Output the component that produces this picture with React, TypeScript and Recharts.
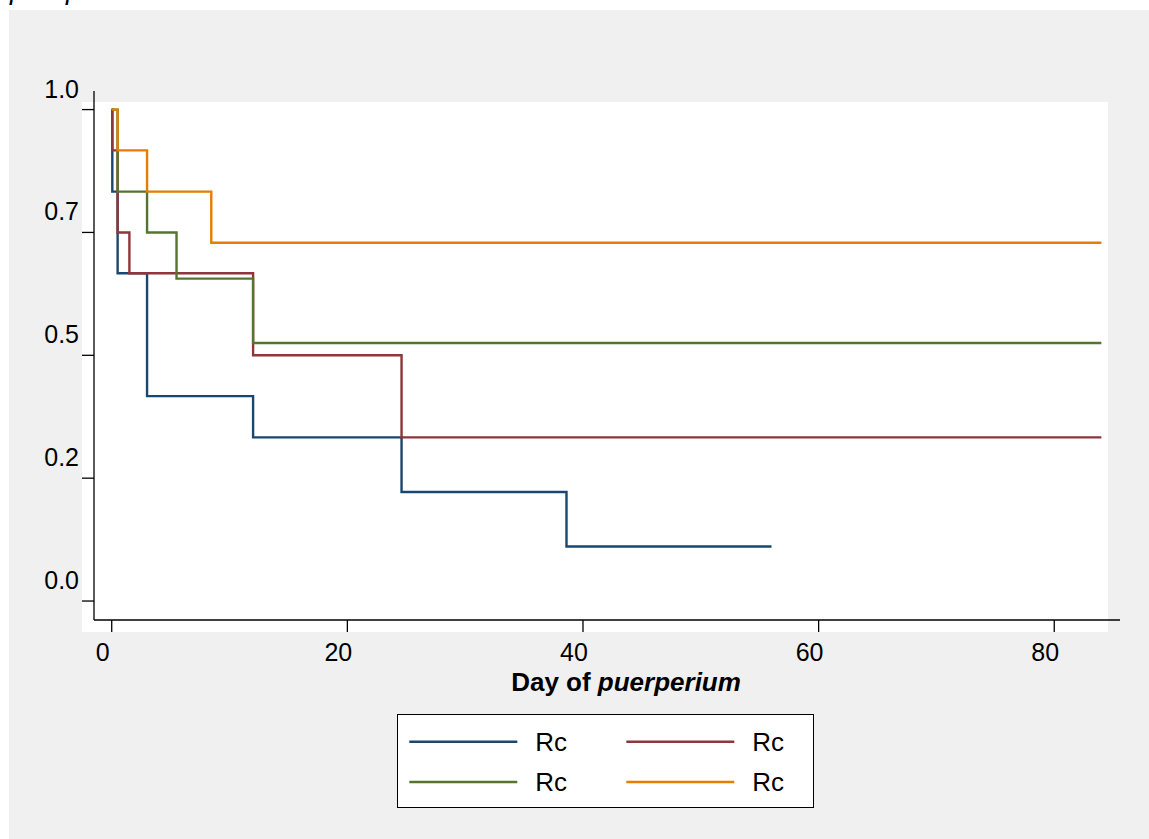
import React from 'react';
import { LineChart, Line, XAxis, YAxis, Legend } from 'recharts';

const FONT = '"Liberation Sans", Arial, Helvetica, sans-serif';

// Series (Kaplan-Meier style step curves), time in days, survival proportion
const navyTime = [0, 0.05, 0.5, 3, 12, 24.6, 38.6, 56];
const navySurv = [1, 0.833, 0.667, 0.417, 0.333, 0.222, 0.111, 0.111];

const maroonTime = [0, 0.05, 0.5, 1.5, 12, 24.6, 84];
const maroonSurv = [1, 0.917, 0.75, 0.667, 0.5, 0.333, 0.333];

const greenTime = [0, 0.5, 3, 5.5, 12, 84];
const greenSurv = [1, 0.833, 0.75, 0.656, 0.525, 0.525];

const orangeTime = [0, 0.5, 3, 8.45, 84];
const orangeSurv = [1, 0.917, 0.833, 0.729, 0.729];

const seriesNames = ['Rc', 'Rc', 'Rc', 'Rc'];
const seriesColors = ['#1a476f', '#90353b', '#55752f', '#e37e00'];

const xTicks = [0, 20, 40, 60, 80];
const xTickLabels = ['0', '20', '40', '60', '80'];
const yTicks = [0, 0.25, 0.5, 0.75, 1];
const yTickLabels = ['0.0', '0.2', '0.5', '0.7', '1.0'];

const xTitlePlain = 'Day of ';
const xTitleItalic = 'puerperium';
const topCutText = 'puerperium';

const toPoints = (t: number[], s: number[]) => t.map((tv, i) => ({ t: tv, s: s[i] }));

const series = [
  toPoints(navyTime, navySurv),
  toPoints(maroonTime, maroonSurv),
  toPoints(greenTime, greenSurv),
  toPoints(orangeTime, orangeSurv),
];

const YTick = (props: any) => {
  const { x, y, payload } = props;
  const idx = yTicks.indexOf(payload.value);
  return (
    <text x={x} y={y - 12} textAnchor="end" fontSize={25} fill="#000" fontFamily={FONT}>
      {idx >= 0 ? yTickLabels[idx] : String(payload.value)}
    </text>
  );
};

const XTick = (props: any) => {
  const { x, y, payload } = props;
  const idx = xTicks.indexOf(payload.value);
  return (
    <text x={x - 9} y={y + 26.5} textAnchor="middle" fontSize={25} fill="#000" fontFamily={FONT}>
      {idx >= 0 ? xTickLabels[idx] : String(payload.value)}
    </text>
  );
};

const XTitle = (props: any) => {
  const vb = props.viewBox || { x: 0, y: 0, width: 0, height: 0 };
  const cx = vb.x + vb.width / 2 + 19;
  return (
    <text x={cx} y={691} textAnchor="middle" fontSize={26} fontWeight="bold" fill="#000" fontFamily={FONT}>
      {xTitlePlain}
      <tspan fontStyle="italic">{xTitleItalic}</tspan>
    </text>
  );
};

const renderLegend = (props: any) => {
  const payload: any[] = props.payload || [];
  return (
    <div
      style={{
        width: 417,
        height: 94,
        boxSizing: 'border-box',
        border: '1.3px solid #000',
        background: '#ffffff',
      }}
    >
      <svg width={415} height={92} style={{ display: 'block' }}>
        {payload.map((entry: any, i: number) => {
          const col = i % 2;
          const row = Math.floor(i / 2);
          const lx = 11.3 + col * 217;
          const ly = 26.7 + row * 40.3;
          return (
            <g key={i}>
              <line x1={lx} x2={lx + 108} y1={ly} y2={ly} stroke={entry.color} strokeWidth={2.4} />
              <text x={lx + 126} y={ly + 9} fontSize={26} fill="#000" fontFamily={FONT}>
                {entry.value}
              </text>
            </g>
          );
        })}
      </svg>
    </div>
  );
};

export default function App() {
  return (
    <div style={{ position: 'absolute', left: 0, top: 0, width: 1149, height: 839, background: '#ffffff', overflow: 'hidden' }}>
      <svg
        width={400}
        height={10}
        style={{ position: 'absolute', left: 0, top: 0, overflow: 'hidden' }}
      >
        <text x={10} y={-1.5} fontSize={28} fontStyle="italic" fill="#000" fontFamily={FONT}>
          {topCutText}
        </text>
      </svg>
      <div style={{ position: 'absolute', left: 9, top: 10, width: 1140, height: 829, background: '#f0f0f0' }} />
      <div style={{ position: 'absolute', left: 82, top: 102, width: 1026, height: 530, background: '#ffffff' }} />
      <div style={{ position: 'absolute', left: 0, top: 0 }}>
        <LineChart width={1149} height={839} margin={{ top: 91, right: 29, bottom: 159, left: 34 }}>
          <XAxis
            type="number"
            dataKey="t"
            domain={[-1.504, 85.58]}
            allowDataOverflow
            ticks={xTicks}
            interval={0}
            tickSize={12}
            tickMargin={2}
            height={60}
            axisLine={{ stroke: '#000', strokeWidth: 1.3 }}
            tickLine={{ stroke: '#000', strokeWidth: 1.3 }}
            tick={<XTick />}
            label={<XTitle />}
          />
          <YAxis
            yAxisId="left"
            type="number"
            domain={[-0.0386, 1.0378]}
            allowDataOverflow
            ticks={yTicks}
            interval={0}
            width={60}
            tickSize={12}
            tickMargin={3}
            axisLine={{ stroke: '#000', strokeWidth: 1.3 }}
            tickLine={{ stroke: '#000', strokeWidth: 1.3 }}
            tick={<YTick />}
          />
          <YAxis
            yAxisId="right"
            orientation="right"
            mirror
            type="number"
            domain={[-0.0386, 1.0378]}
            allowDataOverflow
            ticks={yTicks}
            interval={0}
            width={1}
            tickSize={11}
            axisLine={false}
            tickLine={{ stroke: '#ffffff', strokeWidth: 2 }}
            tick={false}
          />
          {series.map((pts, i) => (
            <Line
              key={i}
              yAxisId="left"
              data={pts}
              dataKey="s"
              name={seriesNames[i]}
              type="stepAfter"
              stroke={seriesColors[i]}
              strokeWidth={2.4}
              dot={false}
              activeDot={false}
              isAnimationActive={false}
            />
          ))}
          <Legend
            layout="horizontal"
            align="center"
            verticalAlign="middle"
            payloadUniqBy={(e: any) => e.color}
            content={renderLegend}
            wrapperStyle={{ position: 'absolute', left: 397, top: 714, width: 417, height: 94 }}
          />
        </LineChart>
      </div>
    </div>
  );
}
